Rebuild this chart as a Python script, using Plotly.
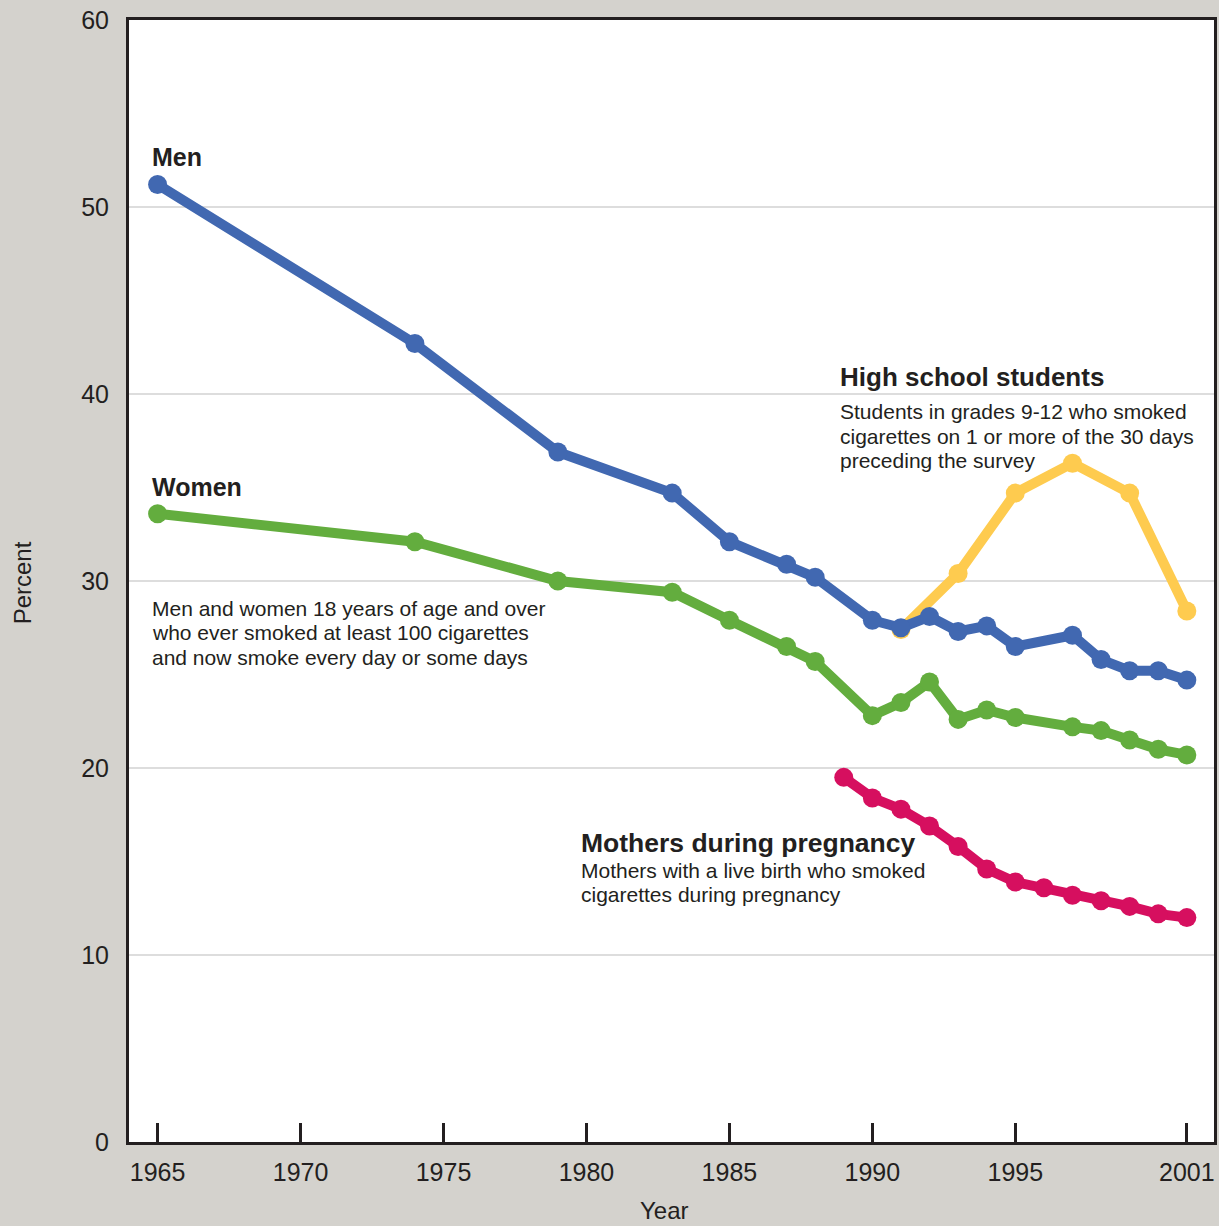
import plotly.graph_objects as go

# Data (percent)
men_years = [1965, 1974, 1979, 1983, 1985, 1987, 1988, 1990, 1991, 1992, 1993, 1994, 1995, 1997, 1998, 1999, 2000, 2001]
men_vals = [51.2, 42.7, 36.9, 34.7, 32.1, 30.9, 30.2, 27.9, 27.5, 28.1, 27.3, 27.6, 26.5, 27.1, 25.8, 25.2, 25.2, 24.7]

women_years = [1965, 1974, 1979, 1983, 1985, 1987, 1988, 1990, 1991, 1992, 1993, 1994, 1995, 1997, 1998, 1999, 2000, 2001]
women_vals = [33.6, 32.1, 30.0, 29.4, 27.9, 26.5, 25.7, 22.8, 23.5, 24.6, 22.6, 23.1, 22.7, 22.2, 22.0, 21.5, 21.0, 20.7]

hs_years = [1991, 1993, 1995, 1997, 1999, 2001]
hs_vals = [27.4, 30.4, 34.7, 36.3, 34.7, 28.4]

mothers_years = [1989, 1990, 1991, 1992, 1993, 1994, 1995, 1996, 1997, 1998, 1999, 2000, 2001]
mothers_vals = [19.5, 18.4, 17.8, 16.9, 15.8, 14.6, 13.9, 13.6, 13.2, 12.9, 12.6, 12.2, 12.0]

x_ticks = [1965, 1970, 1975, 1980, 1985, 1990, 1995, 2001]
y_ticks = [0, 10, 20, 30, 40, 50, 60]

FONT = "Liberation Sans, Arial, sans-serif"
TXT = "#231f20"

def series(x, y, color):
    return go.Scatter(x=x, y=y, mode="lines+markers",
                      line=dict(color=color, width=10),
                      marker=dict(color=color, size=19),
                      showlegend=False, hoverinfo="x+y")

fig = go.Figure()
fig.add_trace(series(hs_years, hs_vals, "#fecb4f"))
fig.add_trace(series(women_years, women_vals, "#63ad3e"))
fig.add_trace(series(men_years, men_vals, "#4168b1"))
fig.add_trace(series(mothers_years, mothers_vals, "#d60f5f"))

ann = []
def label(x, y, text, size, bold=False):
    ann.append(dict(x=x, y=y, xref="x", yref="y", text=(f"<b>{text}</b>" if bold else text),
                    showarrow=False, xanchor="left", yanchor="middle", align="left",
                    font=dict(family=FONT, size=size, color=TXT)))

def block(x, y_first, lines, size, step):
    for i, t in enumerate(lines):
        label(x, y_first - i * step, t, size)

STEP = 1.31  # data units between description lines

label(1964.75, 52.65, "Men", 25, True)
label(1964.75, 35.05, "Women", 25, True)
block(1964.75, 28.55, ["Men and women 18 years of age and over",
                       "who ever smoked at least 100 cigarettes",
                       "and now smoke every day or some days"], 21, STEP)
label(1988.8, 40.9, "High school students", 26, True)
block(1988.8, 39.05, ["Students in grades 9-12 who smoked",
                      "cigarettes on 1 or more of the 30 days",
                      "preceding the survey"], 21, STEP)
label(1979.75, 16.0, "Mothers during pregnancy", 26.5, True)
block(1979.75, 14.5, ["Mothers with a live birth who smoked",
                      "cigarettes during pregnancy"], 21, 1.25)

ann.append(dict(x=0.4936, y=-0.061, xref="paper", yref="paper", text="Year", showarrow=False,
                xanchor="center", yanchor="middle", font=dict(family=FONT, size=24, color=TXT)))
ann.append(dict(x=-0.0985, y=0.498, xref="paper", yref="paper", text="Percent", showarrow=False,
                textangle=-90, xanchor="center", yanchor="middle", font=dict(family=FONT, size=24, color=TXT)))

fig.update_layout(
    width=1219, height=1226,
    margin=dict(l=129, r=2, t=20, b=84),
    paper_bgcolor="#d4d2cd",
    plot_bgcolor="#ffffff",
    annotations=ann,
    font=dict(family=FONT, color=TXT),
)
fig.update_xaxes(range=[1964.0, 2001.95], tickvals=x_ticks, ticktext=[str(v) for v in x_ticks],
                 ticks="inside", ticklen=19, tickwidth=3, tickcolor=TXT,
                 showline=True, linewidth=3, linecolor=TXT, mirror=True,
                 showgrid=False, zeroline=False, ticklabelstandoff=6,
                 tickfont=dict(family=FONT, size=25, color=TXT))
fig.update_yaxes(range=[0, 60], tickvals=y_ticks, ticks="",
                 showline=True, linewidth=3, linecolor=TXT, mirror=True,
                 showgrid=True, gridcolor="#dddddd", gridwidth=2, zeroline=False,
                 ticklabelstandoff=12,
                 tickfont=dict(family=FONT, size=25, color=TXT))

fig.write_html("out.html", config={"displayModeBar": False},
               post_script="document.body.style.margin='0px';document.body.style.background='#d4d2cd';")
